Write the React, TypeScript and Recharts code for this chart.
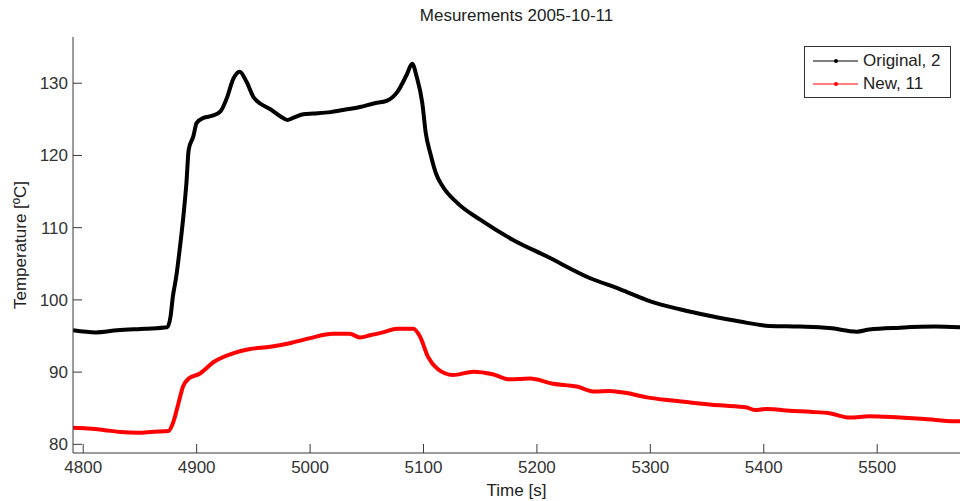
import { LineChart, Line, XAxis, YAxis, Legend } from 'recharts';

// time [s] and temperature [ºC]
const originalTime = [
  4791, 4811, 4830, 4855, 4874, 4877, 4879, 4882, 4885, 4888, 4891, 4893, 4897, 4900,
  4906, 4914, 4921, 4927, 4932, 4938, 4944, 4950, 4956, 4965, 4974, 4980, 4985, 4994,
  5003, 5018, 5029, 5044, 5056, 5068, 5077, 5085, 5090, 5094, 5099, 5102, 5106, 5111,
  5117, 5130, 5150, 5179, 5209, 5247, 5273, 5300, 5326, 5352, 5379, 5405, 5432, 5458,
  5482, 5493, 5520, 5551, 5573,
];
const originalTemp = [
  95.8, 95.5, 95.8, 96.0, 96.2, 97.7, 100.4, 103.2, 106.9, 111.1, 116.2, 120.8, 122.6, 124.5,
  125.2, 125.5, 126.1, 128.1, 130.5, 131.6, 130.2, 128.1, 127.2, 126.4, 125.4, 124.9, 125.2, 125.7,
  125.8, 126.0, 126.3, 126.7, 127.2, 127.6, 128.8, 131.1, 132.7, 130.9, 127.2, 123.1, 120.3, 117.5,
  115.7, 113.4, 111.1, 108.3, 106.0, 103.0, 101.5, 99.8, 98.7, 97.8, 97.0, 96.4, 96.3, 96.1,
  95.6, 95.9, 96.15, 96.3, 96.2,
];

const newTime = [
  4791, 4804, 4818, 4833, 4848, 4862, 4875, 4879, 4884, 4888, 4893, 4903, 4915, 4932,
  4947, 4965, 4982, 5000, 5020, 5035, 5044, 5053, 5064, 5077, 5091, 5097, 5104, 5112,
  5126, 5144, 5161, 5176, 5194, 5214, 5235, 5251, 5264, 5279, 5297, 5317, 5335, 5361,
  5385, 5392, 5403, 5423, 5441, 5458, 5476, 5493, 5520, 5542, 5568, 5573,
];
const newTemp = [
  82.3, 82.2, 82.0, 81.7, 81.6, 81.75, 81.85, 82.9, 85.7, 88.0, 89.1, 89.8, 91.4, 92.6,
  93.2, 93.5, 94.0, 94.7, 95.3, 95.3, 94.8, 95.1, 95.5, 96.0, 96.0, 94.9, 92.1, 90.5,
  89.6, 90.05, 89.7, 89.0, 89.1, 88.4, 88.0, 87.3, 87.4, 87.1, 86.5, 86.1, 85.8, 85.4,
  85.1, 84.75, 84.9, 84.65, 84.5, 84.3, 83.7, 83.9, 83.7, 83.5, 83.2, 83.2,
];

const xTicks = [4800, 4900, 5000, 5100, 5200, 5300, 5400, 5500];
const yTicks = [80, 90, 100, 110, 120, 130];

const FONT = '"Liberation Sans", Arial, sans-serif';
const AXIS = '#3a3a3a';

const originalData = originalTime.map((t, i) => ({ t, v: originalTemp[i] }));
const newData = newTime.map((t, i) => ({ t, v: newTemp[i] }));

// matlab style ticks: mark inside the axes, label outside
const XTick = ({ x, y, payload }: any) => (
  <g>
    <line x1={x} x2={x} y1={y} y2={y - 9} stroke={AXIS} />
    <text x={x} y={y + 20} textAnchor="middle" fill="#333" fontSize={17} fontFamily={FONT}>
      {payload.value}
    </text>
  </g>
);

const YTick = ({ x, y, payload }: any) => (
  <g>
    <line x1={x} x2={x + 9} y1={y} y2={y} stroke={AXIS} />
    <text x={x - 5} y={y} dy="0.35em" textAnchor="end" fill="#333" fontSize={17} fontFamily={FONT}>
      {payload.value}
    </text>
  </g>
);

const LegendBox = () => {
  const items = [
    { name: 'Original, 2', color: '#000000' },
    { name: 'New, 11', color: '#ff0000' },
  ];
  return (
    <div
      style={{
        border: '1px solid #333',
        background: '#fff',
        width: 147,
        height: 52,
        boxSizing: 'border-box',
        paddingTop: 2,
        fontFamily: FONT,
        fontSize: 17,
        color: '#222',
        whiteSpace: 'nowrap',
      }}
    >
      {items.map((it) => (
        <div key={it.name} style={{ display: 'flex', alignItems: 'center', height: 23 }}>
          <svg width={50} height={10} style={{ marginLeft: 8, flexShrink: 0 }}>
            <line x1={0} x2={45} y1={5} y2={5} stroke={it.color} strokeWidth={1} />
            <circle cx={23} cy={5} r={2} fill={it.color} />
          </svg>
          <span>{it.name}</span>
        </div>
      ))}
    </div>
  );
};

export default function App() {
  return (
    <div style={{ position: 'absolute', left: 0, top: 0, width: 960, height: 501, background: '#fff' }}>
      <div
        style={{
          position: 'absolute',
          left: 73,
          width: 887,
          top: 6,
          textAlign: 'center',
          fontFamily: FONT,
          fontSize: 17,
          color: '#222',
        }}
      >
        Mesurements 2005-10-11
      </div>
      <LineChart width={960} height={501} margin={{ top: 37, right: 0, bottom: 0, left: 0 }}>
        <XAxis
          type="number"
          dataKey="t"
          domain={[4791, 5573]}
          allowDataOverflow
          ticks={xTicks}
          interval={0}
          height={48}
          stroke={AXIS}
          tickSize={0}
          tickMargin={0}
          tick={<XTick />}
          tickLine={false}
          label={{
            value: 'Time [s]',
            position: 'insideBottom',
            offset: 5,
            style: { fontFamily: FONT, fontSize: 17, fill: '#222' },
          }}
        />
        <YAxis
          type="number"
          domain={[78.8, 136.4]}
          allowDataOverflow
          ticks={yTicks}
          interval={0}
          width={73}
          stroke={AXIS}
          tickSize={0}
          tickMargin={0}
          tick={<YTick />}
          tickLine={false}
          label={{
            value: 'Temperature [ºC]',
            angle: -90,
            position: 'center',
            dx: -17,
            style: { fontFamily: FONT, fontSize: 17, fill: '#222', textAnchor: 'middle' },
          }}
        />
        <Legend
          layout="vertical"
          align="center"
          verticalAlign="middle"
          content={<LegendBox />}
          wrapperStyle={{ left: 804, top: 46, width: 147, height: 52 }}
        />
        <Line
          data={originalData}
          dataKey="v"
          name="Original, 2"
          type="monotone"
          stroke="#000000"
          strokeWidth={4}
          strokeLinejoin="round"
          dot={false}
          isAnimationActive={false}
        />
        <Line
          data={newData}
          dataKey="v"
          name="New, 11"
          type="monotone"
          stroke="#ff0000"
          strokeWidth={4}
          strokeLinejoin="round"
          dot={false}
          isAnimationActive={false}
        />
      </LineChart>
    </div>
  );
}
